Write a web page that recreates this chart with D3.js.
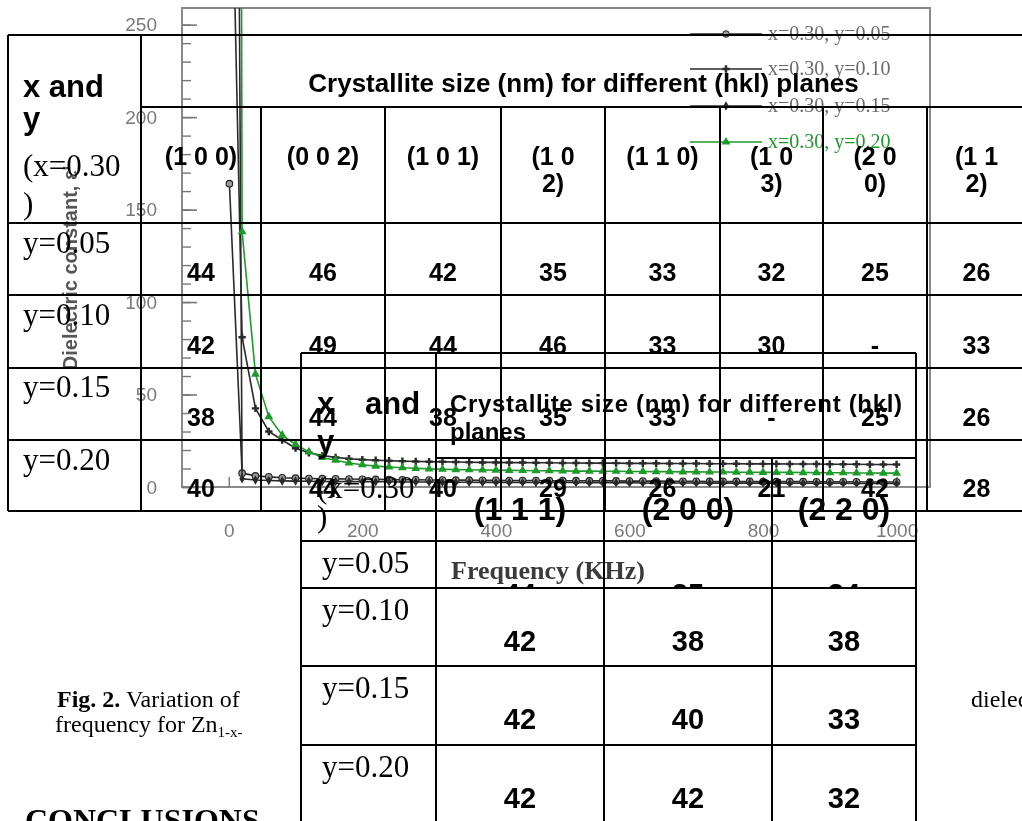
<!DOCTYPE html>
<html>
<head>
<meta charset="utf-8">
<script src="https://cdn.jsdelivr.net/npm/d3@7"></script>
<style>
  html, body { margin: 0; padding: 0; background: #ffffff; }
  svg { display: block; }
</style>
</head>
<body>
<div id="page"></div>
<script>

/* ---------------- data ---------------- */

// frequency points (KHz)
var freq = [1, 20, 40, 60, 80, 100, 120, 140, 160, 180, 200, 220, 240, 260, 280, 300,
    320, 340, 360, 380, 400, 420, 440, 460, 480, 500, 520, 540, 560, 580, 600, 620,
    640, 660, 680, 700, 720, 740, 760, 780, 800, 820, 840, 860, 880, 900, 920, 940,
    960, 980, 1000];

// dielectric constant
var epsY005 = [164, 7.5, 6.0, 5.5, 5.0, 4.8, 4.6, 4.5, 4.4, 4.3, 4.2, 4.1, 4.0, 3.9, 3.9,
    3.8, 3.8, 3.7, 3.7, 3.6, 3.6, 3.5, 3.5, 3.5, 3.4, 3.4, 3.4, 3.3, 3.3, 3.3, 3.2, 3.2,
    3.2, 3.1, 3.1, 3.1, 3.0, 3.0, 3.0, 3.0, 2.9, 2.9, 2.9, 2.9, 2.8, 2.8, 2.8, 2.8, 2.7,
    2.7, 2.7];
var epsY010 = [400, 81, 42.5, 30, 25.4, 21, 18.5, 17, 16, 15.3, 14.8, 14.5, 14.2, 14.0,
    13.8, 13.7, 13.6, 13.5, 13.4, 13.3, 13.3, 13.2, 13.2, 13.1, 13.1, 13.0, 13.0, 12.9,
    12.9, 12.9, 12.8, 12.8, 12.8, 12.7, 12.7, 12.7, 12.6, 12.6, 12.6, 12.5, 12.5, 12.5,
    12.4, 12.4, 12.4, 12.3, 12.3, 12.3, 12.2, 12.2, 12.2];
var epsY015 = [1200, 4.5, 3.8, 3.5, 3.3, 3.2, 3.1, 3.0, 3.0, 2.9, 2.9, 2.8, 2.8, 2.7, 2.7,
    2.7, 2.6, 2.6, 2.6, 2.5, 2.5, 2.5, 2.5, 2.4, 2.4, 2.4, 2.4, 2.3, 2.3, 2.3, 2.3, 2.2,
    2.2, 2.2, 2.2, 2.2, 2.1, 2.1, 2.1, 2.1, 2.1, 2.0, 2.0, 2.0, 2.0, 2.0, 2.0, 1.9, 1.9,
    1.9, 1.9];
var epsY020 = [3000, 138, 61, 38, 28, 23, 19, 16, 14.5, 13, 12, 11.3, 10.8, 10.4, 10.1,
    9.8, 9.6, 9.4, 9.3, 9.2, 9.1, 9.0, 8.9, 8.8, 8.8, 8.7, 8.6, 8.6, 8.5, 8.5, 8.4, 8.4,
    8.3, 8.3, 8.2, 8.2, 8.1, 8.1, 8.0, 8.0, 7.9, 7.9, 7.9, 7.8, 7.8, 7.7, 7.7, 7.6, 7.6,
    7.5, 7.5];

var seriesNames = ["x=0.30, y=0.05", "x=0.30, y=0.10", "x=0.30, y=0.15", "x=0.30, y=0.20"];
var yTicks = [0, 50, 100, 150, 200, 250];
var xTicks = [0, 200, 400, 600, 800, 1000];

// table 1: crystallite size for eight planes
var rowLabels = ["y=0.05", "y=0.10", "y=0.15", "y=0.20"];
var planes1 = [["(1 0 0)"], ["(0 0 2)"], ["(1 0 1)"], ["(1 0", "2)"], ["(1 1 0)"],
    ["(1 0", "3)"], ["(2 0", "0)"], ["(1 1", "2)"]];
var size1 = [
    ["44", "46", "42", "35", "33", "32", "25", "26"],
    ["42", "49", "44", "46", "33", "30", "-", "33"],
    ["38", "44", "38", "35", "33", "-", "25", "26"],
    ["40", "44", "40", "29", "26", "21", "42", "28"]
];

// table 2: crystallite size for three planes
var planes2 = ["(1 1 1)", "(2 0 0)", "(2 2 0)"];
var size2 = [
    ["44", "35", "34"],
    ["42", "38", "38"],
    ["42", "40", "33"],
    ["42", "42", "32"]
];


/* ---------------- page ---------------- */

var W = 1022, H = 821;
var SANS = "'Liberation Sans', Arial, sans-serif";
var SERIF = "'Liberation Serif', 'Times New Roman', serif";
var GREEN = "#1f9a2a";

var svg = d3.select("#page").append("svg").attr("width", W).attr("height", H);
var defs = svg.append("defs");

// slight softening so the plot looks like the scanned figure
defs.append("filter").attr("id", "scan")
    .append("feGaussianBlur").attr("stdDeviation", 0.55);


/* ---------------- chart ---------------- */

var plot = {left: 182, right: 930, top: 8, bottom: 487};

var x = d3.scaleLinear().domain([-70, 1050]).range([plot.left, plot.right]);
var y = d3.scaleLinear().domain([0, 259]).range([plot.bottom, plot.top]);

defs.append("clipPath").attr("id", "plotclip").append("rect")
    .attr("x", plot.left).attr("y", plot.top)
    .attr("width", plot.right - plot.left).attr("height", plot.bottom - plot.top);

var chart = svg.append("g").attr("filter", "url(#scan)");

// frame
chart.append("rect")
    .attr("x", plot.left).attr("y", plot.top)
    .attr("width", plot.right - plot.left).attr("height", plot.bottom - plot.top)
    .attr("fill", "none").attr("stroke", "#8a8a8a").attr("stroke-width", 2);

// y axis: inward ticks, labels on the outside
var yaxis = d3.axisLeft(y).tickValues(yTicks).tickSizeInner(-15).tickSizeOuter(0)
    .tickPadding(25);
var yg = chart.append("g").attr("transform", "translate(" + plot.left + ",0)").call(yaxis);
yg.select(".domain").remove();
yg.selectAll(".tick line").attr("stroke", "#777").attr("stroke-width", 1.6);
yg.selectAll("text").attr("font-family", SANS).attr("font-size", 19).attr("fill", "#7a7a7a");

// y minor ticks
var yminor = d3.axisLeft(y).tickValues(d3.range(0, 251, 10)).tickSizeInner(-9)
    .tickSizeOuter(0).tickFormat("");
var ym = chart.append("g").attr("transform", "translate(" + plot.left + ",0)").call(yminor);
ym.select(".domain").remove();
ym.selectAll(".tick line").attr("stroke", "#777").attr("stroke-width", 1.4);

// x axis
var xaxis = d3.axisBottom(x).tickValues(xTicks).tickSizeInner(-10).tickSizeOuter(0)
    .tickPadding(37).tickFormat(d3.format("d"));
var xg = chart.append("g").attr("transform", "translate(0," + plot.bottom + ")").call(xaxis);
xg.select(".domain").remove();
xg.selectAll(".tick line").attr("stroke", "#777").attr("stroke-width", 1.4);
xg.selectAll("text").attr("font-family", SANS).attr("font-size", 19).attr("fill", "#7a7a7a");

// axis titles
chart.append("text").text("Frequency (KHz)")
    .attr("x", 548).attr("y", 579).attr("text-anchor", "middle")
    .attr("font-family", SERIF).attr("font-weight", "bold").attr("font-size", 26)
    .attr("fill", "#3a3a3a");
chart.append("text").text("Dielectric constant, \u03b5'")
    .attr("transform", "translate(77,268) rotate(-90)").attr("text-anchor", "middle")
    .attr("font-family", SANS).attr("font-weight", "bold").attr("font-size", 20)
    .attr("fill", "#555");

// series
var series = [
    {name: seriesNames[0], values: epsY005, color: "#2a2a2a", marker: "circle"},
    {name: seriesNames[1], values: epsY010, color: "#2a2a2a", marker: "cross"},
    {name: seriesNames[2], values: epsY015, color: "#2a2a2a", marker: "diamond"},
    {name: seriesNames[3], values: epsY020, color: GREEN, marker: "triangle"}
];
series.forEach(function(s) {
    s.points = freq.map(function(f, i) { return {f: f, v: s.values[i]}; });
});

var symbolOf = {
    circle: d3.symbol().type(d3.symbolCircle).size(34),
    cross: d3.symbol().type(d3.symbolCross).size(30),
    diamond: d3.symbol().type(d3.symbolDiamond).size(26),
    triangle: d3.symbol().type(d3.symbolTriangle).size(34)
};

var line = d3.line().x(function(d) { return x(d.f); }).y(function(d) { return y(d.v); });

var inner = chart.append("g").attr("clip-path", "url(#plotclip)");
series.forEach(function(s) {
    inner.append("path").datum(s.points)
        .attr("d", line).attr("fill", "none")
        .attr("stroke", s.color).attr("stroke-width", 1.6);
    inner.selectAll(null).data(s.points.filter(function(d) { return d.v < 259; }))
        .enter().append("path")
        .attr("transform", function(d) { return "translate(" + x(d.f) + "," + y(d.v) + ")"; })
        .attr("d", symbolOf[s.marker])
        .attr("fill", s.marker == "circle" ? "#9a9a9a" : s.color)
        .attr("stroke", s.marker == "circle" ? "#222" : "none")
        .attr("stroke-width", 1.1);
});

// legend
var legendY = [34, 69, 106, 142];
var legend = chart.append("g");
series.forEach(function(s, i) {
    var g = legend.append("g").attr("transform", "translate(0," + legendY[i] + ")");
    g.append("line").attr("x1", 690).attr("x2", 762).attr("y1", 0).attr("y2", 0)
        .attr("stroke", s.color).attr("stroke-width", 1.6);
    g.append("path").attr("transform", "translate(726,0)").attr("d", symbolOf[s.marker])
        .attr("fill", s.marker == "circle" ? "#9a9a9a" : s.color)
        .attr("stroke", s.marker == "circle" ? "#222" : "none");
    g.append("text").text(s.name).attr("x", 768).attr("y", 6)
        .attr("font-family", SERIF).attr("font-size", 20)
        .attr("fill", i == 3 ? GREEN : "#6a6a6a");
});


/* ---------------- table 1 ---------------- */

var t1 = {
    cols: [8, 141, 261, 385, 501, 605, 720, 823, 927, 1026],
    rows: [35, 107, 223, 295, 368, 440, 511]
};
var tab1 = svg.append("g");

function hline(g, x1, x2, yy) {
    g.append("line").attr("x1", x1).attr("x2", x2).attr("y1", yy).attr("y2", yy)
        .attr("stroke", "#000").attr("stroke-width", 2);
}
function vline(g, xx, y1, y2) {
    g.append("line").attr("x1", xx).attr("x2", xx).attr("y1", y1).attr("y2", y2)
        .attr("stroke", "#000").attr("stroke-width", 2);
}
function label(g, txt, xx, yy, opts) {
    var t = g.append("text").text(txt).attr("x", xx).attr("y", yy)
        .attr("font-family", opts.serif ? SERIF : SANS)
        .attr("font-size", opts.size)
        .attr("font-weight", opts.bold ? "bold" : "normal")
        .attr("text-anchor", opts.anchor || "start")
        .attr("fill", "#000");
    return t;
}

hline(tab1, t1.cols[0], W, t1.rows[0]);
hline(tab1, t1.cols[1], W, t1.rows[1]);
for (var r = 2; r < t1.rows.length; r++) hline(tab1, t1.cols[0], W, t1.rows[r]);
vline(tab1, t1.cols[0], t1.rows[0], t1.rows[6]);
vline(tab1, t1.cols[1], t1.rows[0], t1.rows[6]);
for (var c = 2; c < t1.cols.length; c++) vline(tab1, t1.cols[c], t1.rows[1], t1.rows[6]);

label(tab1, "x and", 23, 97, {size: 31, bold: true});
label(tab1, "y", 23, 129, {size: 31, bold: true});
label(tab1, "(x=0.30", 23, 176, {size: 31, serif: true});
label(tab1, ")", 23, 214, {size: 31, serif: true});

label(tab1, "Crystallite size (nm) for different (hkl) planes",
    (t1.cols[1] + t1.cols[9]) / 2, 92, {size: 26, bold: true, anchor: "middle"});

planes1.forEach(function(lines, i) {
    var cx = (t1.cols[i + 1] + t1.cols[i + 2]) / 2;
    lines.forEach(function(l, k) {
        label(tab1, l, cx, 165 + k * 27, {size: 25, bold: true, anchor: "middle"});
    });
});

var base1 = [253, 325, 397, 470];
var numBase1 = [281, 354, 426, 497];
rowLabels.forEach(function(lab, r) {
    label(tab1, lab, 23, base1[r], {size: 31, serif: true});
    size1[r].forEach(function(v, i) {
        var cx = (t1.cols[i + 1] + t1.cols[i + 2]) / 2;
        label(tab1, v, cx, numBase1[r], {size: 25, bold: true, anchor: "middle"});
    });
});


/* ---------------- table 2 ---------------- */

var t2 = {
    cols: [301, 436, 604, 772, 916],
    top: 353, split: 458,
    rows: [541, 588, 666, 745, 824]
};
var tab2 = svg.append("g");

hline(tab2, t2.cols[0], t2.cols[4], t2.top);
hline(tab2, t2.cols[1], t2.cols[4], t2.split);
t2.rows.forEach(function(yy) { hline(tab2, t2.cols[0], t2.cols[4], yy); });
vline(tab2, t2.cols[0], t2.top, H);
vline(tab2, t2.cols[1], t2.top, H);
vline(tab2, t2.cols[2], t2.split, H);
vline(tab2, t2.cols[3], t2.split, H);
vline(tab2, t2.cols[4], t2.top, H);

label(tab2, "x", 317, 414, {size: 31, bold: true});
label(tab2, "and", 365, 414, {size: 31, bold: true});
label(tab2, "y", 317, 452, {size: 31, bold: true});
label(tab2, "(x=0.30", 317, 498, {size: 31, serif: true});
label(tab2, ")", 317, 527, {size: 31, serif: true});

label(tab2, "Crystallite size (nm) for different (hkl)", 450, 412, {size: 24, bold: true})
    .attr("textLength", 452).attr("lengthAdjust", "spacing");
label(tab2, "planes", 450, 440, {size: 24, bold: true});

planes2.forEach(function(p, i) {
    label(tab2, p, (t2.cols[i + 1] + t2.cols[i + 2]) / 2, 520,
        {size: 32, bold: true, anchor: "middle"});
});

rowLabels.forEach(function(lab, r) {
    var top = t2.rows[r], bot = t2.rows[r + 1];
    label(tab2, lab, 322, top + 32, {size: 31, serif: true});
    // the values overflow their row in the source; keep them inside it
    defs.append("clipPath").attr("id", "row2clip" + r).append("rect")
        .attr("x", t2.cols[1]).attr("y", top)
        .attr("width", t2.cols[4] - t2.cols[1]).attr("height", bot - top);
    var g = tab2.append("g").attr("clip-path", "url(#row2clip" + r + ")");
    size2[r].forEach(function(v, i) {
        label(g, v, (t2.cols[i + 1] + t2.cols[i + 2]) / 2, top + 63,
            {size: 29, bold: true, anchor: "middle"});
    });
});


/* ---------------- caption and page text ---------------- */

var cap = svg.append("g");
var c1 = label(cap, "", 57, 707, {size: 24, serif: true});
c1.append("tspan").attr("font-weight", "bold").text("Fig. 2.");
c1.append("tspan").text(" Variation of");
var c2 = label(cap, "frequency for Zn", 55, 732, {size: 24, serif: true});
c2.append("tspan").attr("font-size", 15).attr("dy", 5).text("1-x-");
label(cap, "dielectric", 971, 707, {size: 24, serif: true});
label(cap, "CONCLUSIONS", 25, 831, {size: 32, serif: true, bold: true});

</script>
</body>
</html>
